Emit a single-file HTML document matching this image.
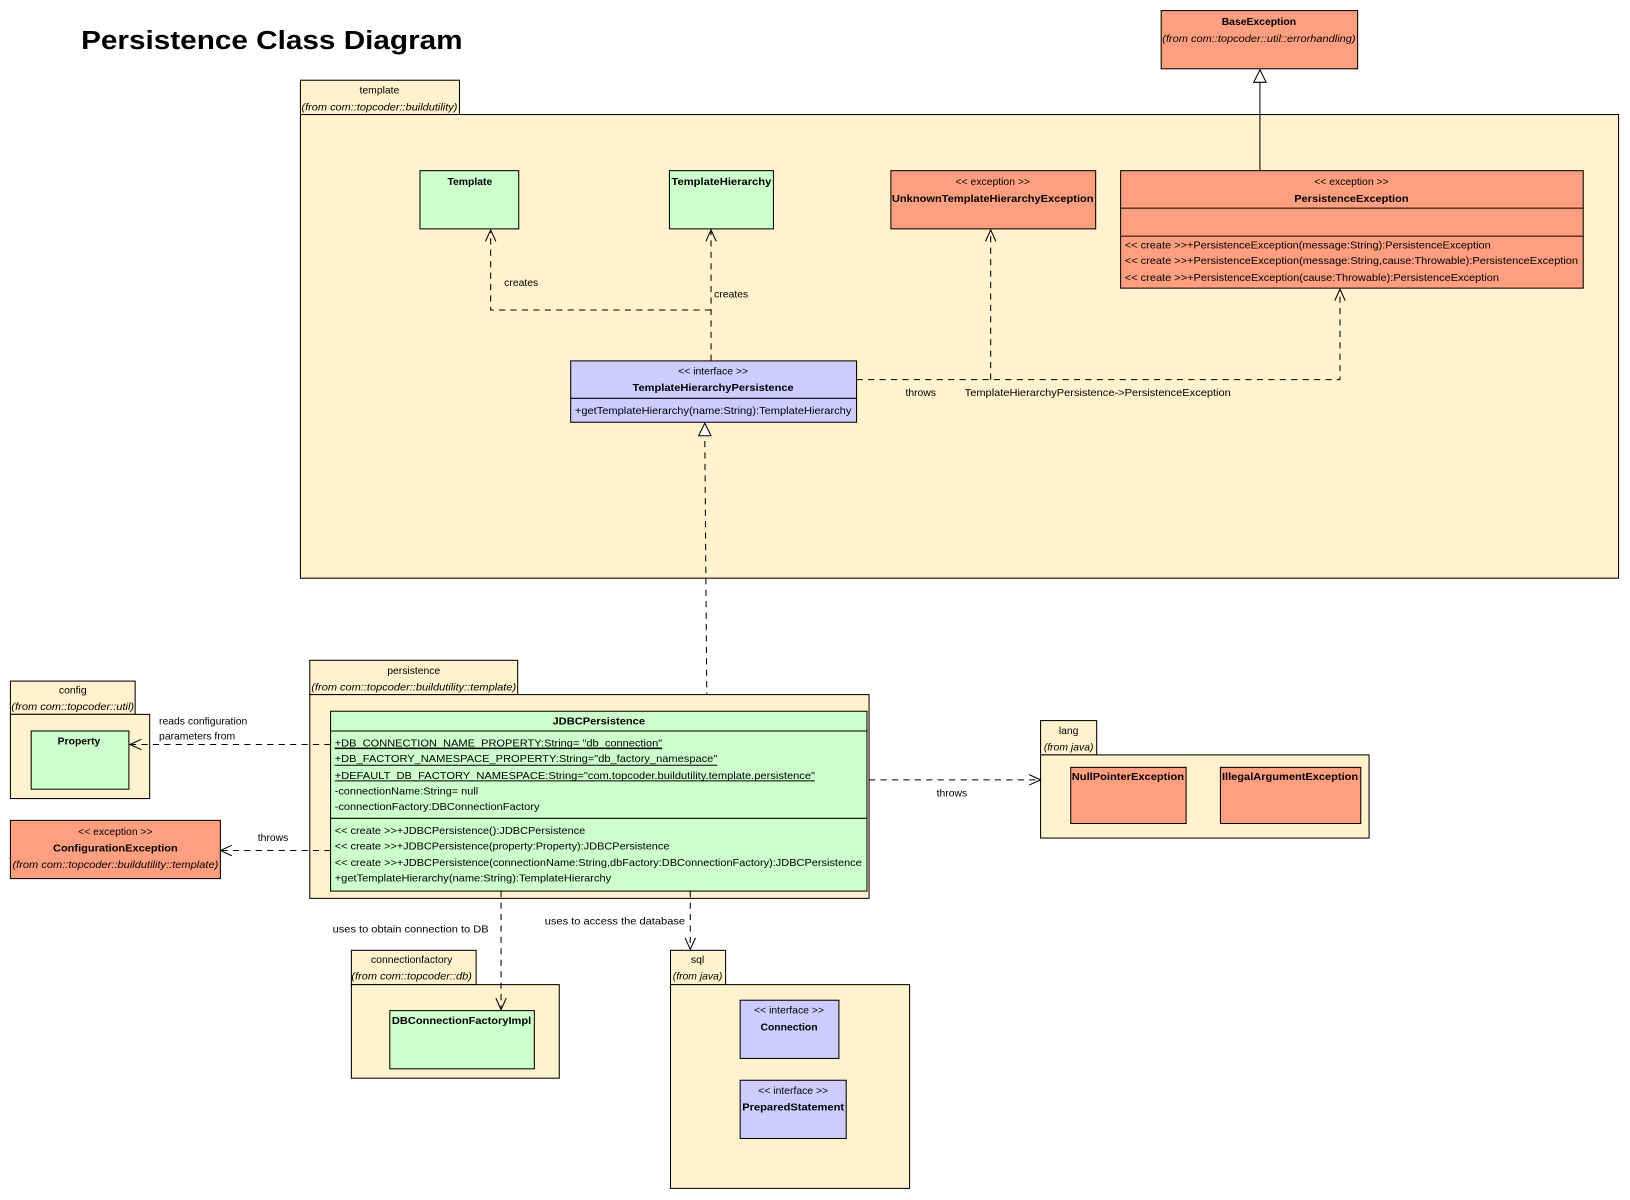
<!DOCTYPE html>
<html><head><meta charset="utf-8"><style>
html,body{margin:0;padding:0;background:#fff;width:1630px;height:1200px;overflow:hidden}
svg text{font-family:"Liberation Sans",Arial,sans-serif;font-size:10px;fill:#000}
.b{font-weight:bold}.i{font-style:italic}
.y{fill:#fff2cc;stroke:#000;stroke-width:1}
.g{fill:#ccffcc;stroke:#000;stroke-width:1}
.r{fill:#ff9f80;stroke:#000;stroke-width:1}
.p{fill:#ccccff;stroke:#000;stroke-width:1}
.d{fill:none;stroke:#000;stroke-width:1;stroke-dasharray:6,5}
.s{fill:none;stroke:#000;stroke-width:1}
</style></head><body>
<svg width="1630" height="1200" viewBox="0 0 1568 1154" xmlns="http://www.w3.org/2000/svg">
<text x="78" y="47" class="b" style="font-size:25px;font-weight:900" textLength="367" lengthAdjust="spacingAndGlyphs">Persistence Class Diagram</text>

<!-- BaseException -->
<rect class="r" x="1117" y="10" width="189" height="56"/>
<text x="1211" y="24" class="b" text-anchor="middle">BaseException</text>
<text x="1211" y="40" class="i" text-anchor="middle" textLength="186" lengthAdjust="spacingAndGlyphs">(from com::topcoder::util::errorhandling)</text>

<!-- template package -->
<rect class="y" x="289" y="77" width="153" height="33"/>
<rect class="y" x="289" y="110" width="1268" height="446"/>
<text x="365" y="90" text-anchor="middle">template</text>
<text x="365" y="106" class="i" text-anchor="middle" textLength="150" lengthAdjust="spacingAndGlyphs">(from com::topcoder::buildutility)</text>

<line class="s" x1="1212" y1="164" x2="1212" y2="79"/>
<polygon points="1212,67 1206,79 1218,79" fill="#fff" stroke="#000"/>

<rect class="g" x="404" y="164" width="95" height="56"/>
<text x="452" y="178" class="b" text-anchor="middle">Template</text>
<rect class="g" x="644" y="164" width="100" height="56"/>
<text x="694" y="178" class="b" text-anchor="middle" textLength="96" lengthAdjust="spacingAndGlyphs">TemplateHierarchy</text>

<rect class="r" x="857" y="164" width="197" height="56"/>
<text x="955" y="178" text-anchor="middle">&lt;&lt; exception &gt;&gt;</text>
<text x="955" y="194" class="b" text-anchor="middle" textLength="194" lengthAdjust="spacingAndGlyphs">UnknownTemplateHierarchyException</text>

<rect class="r" x="1078" y="164" width="445" height="113"/>
<line class="s" x1="1078" y1="200" x2="1523" y2="200"/>
<line class="s" x1="1078" y1="227" x2="1523" y2="227"/>
<text x="1300" y="178" text-anchor="middle">&lt;&lt; exception &gt;&gt;</text>
<text x="1300" y="194" class="b" text-anchor="middle" textLength="110" lengthAdjust="spacingAndGlyphs">PersistenceException</text>
<text x="1082" y="239" textLength="352" lengthAdjust="spacingAndGlyphs">&lt;&lt; create &gt;&gt;+PersistenceException(message:String):PersistenceException</text>
<text x="1082" y="254" textLength="436" lengthAdjust="spacingAndGlyphs">&lt;&lt; create &gt;&gt;+PersistenceException(message:String,cause:Throwable):PersistenceException</text>
<text x="1082" y="270" textLength="360" lengthAdjust="spacingAndGlyphs">&lt;&lt; create &gt;&gt;+PersistenceException(cause:Throwable):PersistenceException</text>

<rect class="p" x="549" y="347" width="275" height="59"/>
<line class="s" x1="549" y1="383" x2="824" y2="383"/>
<text x="686" y="360" text-anchor="middle">&lt;&lt; interface &gt;&gt;</text>
<text x="686" y="376" class="b" text-anchor="middle" textLength="155" lengthAdjust="spacingAndGlyphs">TemplateHierarchyPersistence</text>
<text x="553" y="398" textLength="266" lengthAdjust="spacingAndGlyphs">+getTemplateHierarchy(name:String):TemplateHierarchy</text>

<!-- creates -->
<polyline class="d" points="684,347 684,222"/>
<polyline class="s" points="679,232 684,221 689,232"/>
<polyline class="d" points="684,298 472,298 472,222"/>
<polyline class="s" points="467,232 472,221 477,232"/>
<text x="485" y="275">creates</text>
<text x="687" y="286">creates</text>

<!-- throws -->
<polyline class="d" points="824,365 1289,365 1289,279"/>
<polyline class="d" points="953,365 953,222"/>
<polyline class="s" points="948,232 953,221 958,232"/>
<polyline class="s" points="1284,289 1289,278 1294,289"/>
<text x="871" y="381">throws</text>
<text x="928" y="381" textLength="256" lengthAdjust="spacingAndGlyphs">TemplateHierarchyPersistence-&gt;PersistenceException</text>

<!-- realization -->
<polyline class="d" points="680,683 678,420"/>
<polygon points="678,407 672,419 684,419" fill="#fff" stroke="#000"/>

<!-- persistence package -->
<rect class="y" x="298" y="635" width="200" height="33"/>
<rect class="y" x="298" y="668" width="538" height="196"/>
<text x="398" y="648" text-anchor="middle">persistence</text>
<text x="398" y="664" class="i" text-anchor="middle" textLength="197" lengthAdjust="spacingAndGlyphs">(from com::topcoder::buildutility::template)</text>

<rect class="g" x="318" y="684" width="516" height="173"/>
<line class="s" x1="318" y1="703" x2="834" y2="703"/>
<line class="s" x1="318" y1="787" x2="834" y2="787"/>
<text x="576" y="697" class="b" text-anchor="middle" textLength="89" lengthAdjust="spacingAndGlyphs">JDBCPersistence</text>
<text x="322" y="718" text-decoration="underline" textLength="315" lengthAdjust="spacingAndGlyphs">+DB_CONNECTION_NAME_PROPERTY:String= "db_connection"</text>
<line class="s" x1="322" y1="720" x2="637" y2="720"/>
<text x="322" y="733" textLength="368" lengthAdjust="spacingAndGlyphs">+DB_FACTORY_NAMESPACE_PROPERTY:String="db_factory_namespace"</text>
<line class="s" x1="322" y1="736" x2="690" y2="736"/>
<text x="322" y="749" textLength="462" lengthAdjust="spacingAndGlyphs">+DEFAULT_DB_FACTORY_NAMESPACE:String="com.topcoder.buildutility.template.persistence"</text>
<line class="s" x1="322" y1="751" x2="784" y2="751"/>
<text x="322" y="764" textLength="138" lengthAdjust="spacingAndGlyphs">-connectionName:String= null</text>
<text x="322" y="779" textLength="197" lengthAdjust="spacingAndGlyphs">-connectionFactory:DBConnectionFactory</text>
<text x="322" y="802" textLength="241" lengthAdjust="spacingAndGlyphs">&lt;&lt; create &gt;&gt;+JDBCPersistence():JDBCPersistence</text>
<text x="322" y="817" textLength="322" lengthAdjust="spacingAndGlyphs">&lt;&lt; create &gt;&gt;+JDBCPersistence(property:Property):JDBCPersistence</text>
<text x="322" y="833" textLength="507" lengthAdjust="spacingAndGlyphs">&lt;&lt; create &gt;&gt;+JDBCPersistence(connectionName:String,dbFactory:DBConnectionFactory):JDBCPersistence</text>
<text x="322" y="848" textLength="266" lengthAdjust="spacingAndGlyphs">+getTemplateHierarchy(name:String):TemplateHierarchy</text>

<!-- config -->
<rect class="y" x="10" y="655" width="120" height="32"/>
<rect class="y" x="10" y="687" width="134" height="81"/>
<text x="70" y="667" text-anchor="middle">config</text>
<text x="70" y="683" class="i" text-anchor="middle" textLength="118" lengthAdjust="spacingAndGlyphs">(from com::topcoder::util)</text>
<rect class="g" x="30" y="703" width="94" height="56"/>
<text x="76" y="716" class="b" text-anchor="middle">Property</text>
<polyline class="d" points="318,716 127,716"/>
<polyline class="s" points="136,711 125,716 136,721"/>
<text x="153" y="697">reads configuration</text>
<text x="153" y="711">parameters from</text>

<rect class="r" x="10" y="789" width="202" height="56"/>
<text x="111" y="803" text-anchor="middle">&lt;&lt; exception &gt;&gt;</text>
<text x="111" y="819" class="b" text-anchor="middle" textLength="120" lengthAdjust="spacingAndGlyphs">ConfigurationException</text>
<text x="111" y="835" class="i" text-anchor="middle" textLength="198" lengthAdjust="spacingAndGlyphs">(from com::topcoder::buildutility::template)</text>
<polyline class="d" points="318,818 214,818"/>
<polyline class="s" points="223,813 212,818 223,823"/>
<text x="248" y="809">throws</text>

<!-- lang -->
<rect class="y" x="1001" y="693" width="54" height="33"/>
<rect class="y" x="1001" y="726" width="316" height="80"/>
<text x="1028" y="706" text-anchor="middle">lang</text>
<text x="1028" y="722" class="i" text-anchor="middle">(from java)</text>
<rect class="r" x="1030" y="738" width="111" height="54"/>
<text x="1085" y="750" class="b" text-anchor="middle" textLength="108" lengthAdjust="spacingAndGlyphs">NullPointerException</text>
<rect class="r" x="1174" y="738" width="135" height="54"/>
<text x="1241" y="750" class="b" text-anchor="middle" textLength="131" lengthAdjust="spacingAndGlyphs">IllegalArgumentException</text>
<polyline class="d" points="836,750 999,750"/>
<polyline class="s" points="990,745 1001,750 990,755"/>
<text x="901" y="766">throws</text>

<!-- connectionfactory -->
<rect class="y" x="338" y="914" width="120" height="33"/>
<rect class="y" x="338" y="947" width="200" height="90"/>
<text x="396" y="926" text-anchor="middle">connectionfactory</text>
<text x="396" y="942" class="i" text-anchor="middle" textLength="116" lengthAdjust="spacingAndGlyphs">(from com::topcoder::db)</text>
<rect class="g" x="375" y="972" width="139" height="56"/>
<text x="444" y="985" class="b" text-anchor="middle" textLength="134" lengthAdjust="spacingAndGlyphs">DBConnectionFactoryImpl</text>
<polyline class="d" points="482,857 482,969"/>
<polyline class="s" points="477,960 482,971 487,960"/>
<text x="320" y="897" textLength="150" lengthAdjust="spacingAndGlyphs">uses to obtain connection to DB</text>

<!-- sql -->
<rect class="y" x="645" y="914" width="53" height="33"/>
<rect class="y" x="645" y="947" width="230" height="196"/>
<text x="671" y="926" text-anchor="middle">sql</text>
<text x="671" y="942" class="i" text-anchor="middle">(from java)</text>
<rect class="p" x="712" y="962" width="95" height="56"/>
<text x="759" y="975" text-anchor="middle">&lt;&lt; interface &gt;&gt;</text>
<text x="759" y="991" class="b" text-anchor="middle">Connection</text>
<rect class="p" x="712" y="1039" width="102" height="56"/>
<text x="763" y="1052" text-anchor="middle">&lt;&lt; interface &gt;&gt;</text>
<text x="763" y="1068" class="b" text-anchor="middle" textLength="98" lengthAdjust="spacingAndGlyphs">PreparedStatement</text>
<polyline class="d" points="664,857 664,911"/>
<polyline class="s" points="659,902 664,913 669,902"/>
<text x="524" y="889" textLength="135" lengthAdjust="spacingAndGlyphs">uses to access the database</text>
</svg>
</body></html>
